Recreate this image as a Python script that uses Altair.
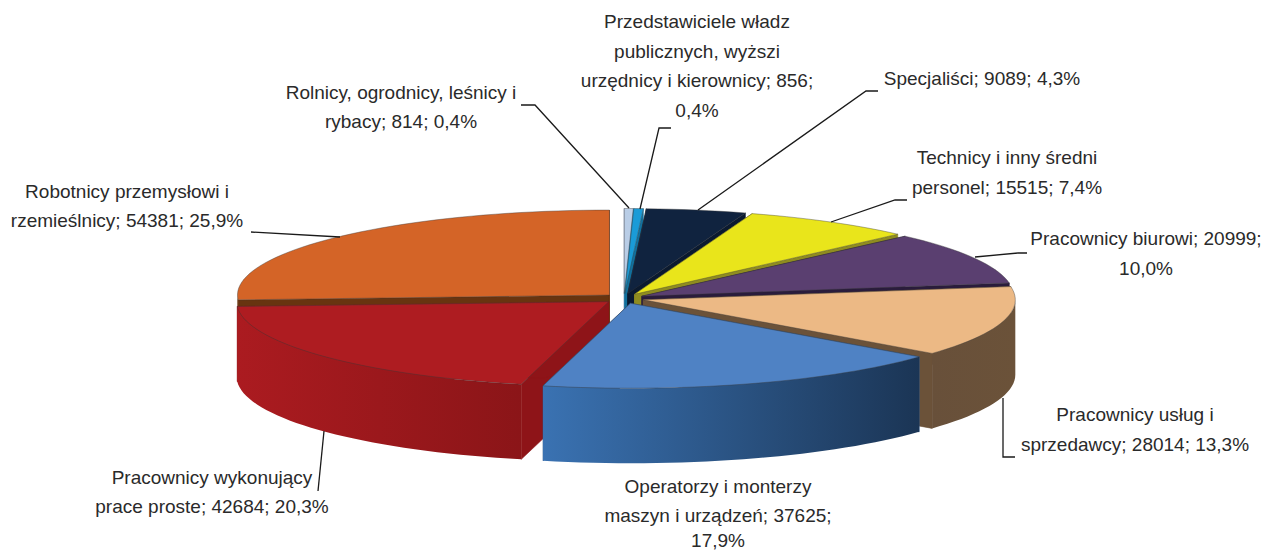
import math
import altair as alt
import pandas as pd

# ---- chart data ----
names = ["Rolnicy", "Przedstawiciele", "Specjaliści", "Technicy", "Biurowi",
         "Usługi", "Operatorzy", "Wykonujący", "Robotnicy"]
values = [814, 856, 9089, 15515, 20999, 28014, 37625, 42684, 54381]
top_colors = ["#b9cde6", "#1a9bd7", "#10233f", "#e9e51b", "#5a3f70",
              "#ecb985", "#4f82c4", "#ae1c21", "#d46427"]
face_colors = ["#8fa3bd", "#12709d", "#0b1a30", "#8f8c20", "#2a1c3c",
               "#6b5239", "#2b5486", "#8e1418", "#683410"]
wall_colors = [("#b9cde6", "#b9cde6"), ("#1a9bd7", "#1a9bd7"), ("#10233f", "#10233f"),
               ("#8f8c20", "#8f8c20"), ("#3f2c50", "#3f2c50"), ("#68503a", "#6b5239"),
               ("#3a72b2", "#1b3555"), ("#ab1b20", "#8b1518"), ("#683410", "#683410")]
draw_order = [0, 1, 2, 3, 4, 8, 7, 5, 6]

label_text = [
    ["Rolnicy, ogrodnicy, leśnicy i", "rybacy; 814; 0,4%"],
    ["Przedstawiciele władz", "publicznych, wyższi", "urzędnicy i kierownicy; 856;", "0,4%"],
    ["Specjaliści; 9089; 4,3%"],
    ["Technicy i inny średni", "personel; 15515; 7,4%"],
    ["Pracownicy biurowi; 20999;", "10,0%"],
    ["Pracownicy usług i", "sprzedawcy; 28014; 13,3%"],
    ["Operatorzy i monterzy", "maszyn i urządzeń; 37625;", "17,9%"],
    ["Pracownicy wykonujący", "prace proste; 42684; 20,3%"],
    ["Robotnicy przemysłowi i", "rzemieślnicy; 54381; 25,9%"],
]
label_x = [401, 697, 982, 1007, 1146, 1135, 718, 212, 127]
label_y = [[93, 122], [22, 52, 81, 111], [79], [158, 188], [239, 269],
           [415, 445], [487, 516, 541], [478, 507], [192, 221]]
leaders = [
    [(521, 105), (535, 105), (629, 208)],
    [(671, 128), (659, 128), (640, 209)],
    [(878, 91), (866, 91), (698, 210)],
    [(907, 200), (895, 200), (831, 222)],
    [(1027, 253), (1018, 253), (975, 257)],
    [(1015, 457), (1003, 457), (1003, 398)],
    [(318, 491), (324, 431)],
    [(251, 232), (340, 237)],
]

# ---- pie geometry ----
CX, CY = 624, 298.5
RX, RY = 372, 85
PX, PY = 20, 5
DEPTH = 75
FONT = "Liberation Sans"
FS = 19

W, H = 1255, 543
xs = alt.Scale(domain=[8, 8 + W], range=[0, W], nice=False, zero=False)
ys = alt.Scale(domain=[8, 8 + H], range=[0, H], nice=False, zero=False)


def rim(ax, ay, t):
    r = math.radians(t)
    return ax + RX * math.sin(r), ay - RY * math.cos(r)


def poly(points, fill, stroke=None, sw=0.6):
    df = pd.DataFrame(points, columns=["x", "y"])
    df["o"] = range(len(df))
    kw = dict(interpolate="linear-closed", fill=fill, stroke=stroke or "transparent", strokeWidth=sw)
    return alt.Chart(df).mark_line(**kw).encode(
        x=alt.X("x:Q", scale=xs, axis=None),
        y=alt.Y("y:Q", scale=ys, axis=None),
        order="o:Q",
    )


total = sum(values)
edges = [0.0]
for v in values:
    edges.append(edges[-1] + 360.0 * v / total)

layers = []
for i in draw_order:
    t0, t1 = edges[i], edges[i + 1]
    mid = math.radians((t0 + t1) / 2)
    ax = CX + PX * math.sin(mid)
    ay = CY - PY * math.cos(mid)
    n = max(3, int((t1 - t0) / 2) + 2)
    ts = [t0 + (t1 - t0) * k / (n - 1) for k in range(n)]
    arc = [rim(ax, ay, t) for t in ts]
    # radial faces
    for t in (t0, t1):
        p = rim(ax, ay, t)
        layers.append(poly([(ax, ay), p, (p[0], p[1] + DEPTH), (ax, ay + DEPTH)], face_colors[i], face_colors[i]))
    # outer wall, only where it faces the viewer
    lo, hi = max(t0, 90), min(t1, 270)
    if hi > lo:
        m = max(3, int((hi - lo) / 2) + 2)
        wt = [lo + (hi - lo) * k / (m - 1) for k in range(m)]
        upper = [rim(ax, ay, t) for t in wt]
        lower = [(x, y + DEPTH) for x, y in reversed(upper)]
        c0, c1 = wall_colors[i]
        grad = {"gradient": "linear", "x1": 0, "x2": 1, "y1": 0, "y2": 0,
                "stops": [{"offset": 0, "color": c0}, {"offset": 1, "color": c1}]}
        layers.append(poly(upper + lower, grad))
    # top
    layers.append(poly([(ax, ay)] + arc, top_colors[i], "#3a3a3a", 0.4))

for pts in leaders:
    df = pd.DataFrame(pts, columns=["x", "y"])
    df["o"] = range(len(df))
    layers.append(alt.Chart(df).mark_line(color="#1a1a1a", strokeWidth=1.3).encode(
        x=alt.X("x:Q", scale=xs, axis=None),
        y=alt.Y("y:Q", scale=ys, axis=None),
        order="o:Q",
    ))

rows = []
for lines, x, yl in zip(label_text, label_x, label_y):
    for line, y in zip(lines, yl):
        rows.append({"t": line, "x": x, "y": y})
layers.append(alt.Chart(pd.DataFrame(rows)).mark_text(
    font=FONT, fontSize=FS, color="#2a2a2a", align="center", baseline="middle"
).encode(
    x=alt.X("x:Q", scale=xs, axis=None),
    y=alt.Y("y:Q", scale=ys, axis=None),
    text="t:N",
))

chart = alt.layer(*layers).properties(
    width=W, height=H, padding=0, autosize=alt.AutoSizeParams(type="none")
).configure_view(stroke=None)

chart.save("out.html", embed_options={"renderer": "svg", "actions": False})
